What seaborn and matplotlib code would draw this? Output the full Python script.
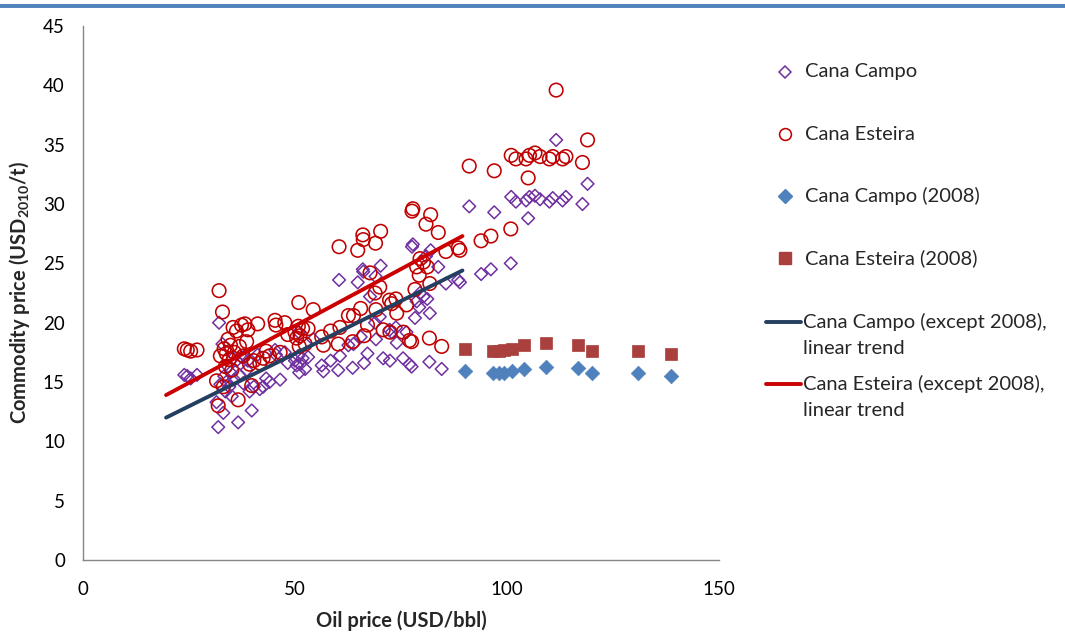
import matplotlib
matplotlib.use("Agg")
import matplotlib.pyplot as plt
from matplotlib.lines import Line2D
import pandas as pd
import seaborn as sns

# Monthly oil price (USD/bbl) with the matching sugarcane prices (USD2010/t), all years except 2008
oil_price = [
    23.9, 24.6, 25.4, 26.9,
    31.5, 31.9, 32.1, 32.4, 32.9, 33.1, 33.3, 33.6, 33.8, 34.2, 34.5, 34.8,
    35.1, 35.4, 35.7, 36.2, 36.6, 36.9, 37.4, 37.8, 38.2, 38.6, 38.9, 39.3,
    39.8, 40.3, 41.2, 41.7, 42.5, 43.2, 44.0, 45.3, 45.5, 46.5, 47.6, 48.3,
    50.0, 50.4, 50.8, 50.9, 51.0, 51.2, 51.8, 52.4, 53.1, 54.3, 56.3, 56.7,
    58.4, 60.2, 60.4, 60.6, 62.6, 63.6, 63.8, 64.8, 65.5, 66.0, 66.1, 66.3,
    67.1, 67.7, 68.9, 69.0, 69.1, 70.0, 70.2, 70.8, 72.3, 72.4, 72.8, 73.8,
    74.0, 75.5, 76.3, 77.0, 77.5, 77.6, 77.8, 78.3, 78.7, 79.3, 79.5, 80.3,
    80.9, 81.2, 81.7, 81.8, 82.0, 83.8, 84.6, 85.6, 88.5, 88.9, 91.1, 93.9,
    96.2, 97.0, 100.9, 101.0, 102.1, 104.5, 105.0, 105.3, 106.6, 107.8, 110.0,
    110.8, 111.6, 113.1, 113.9, 117.8, 119.0,
]
cana_campo = [
    15.6, 15.5, 15.3, 15.6,
    13.3, 11.2, 20.0, 14.8, 18.2, 12.4, 15.5, 14.2, 15.0, 16.3, 14.6, 15.8,
    13.8, 17.0, 15.2, 16.8, 11.6, 15.6, 17.1, 14.9, 17.2, 16.0, 16.8, 14.2,
    12.6, 14.6, 17.3, 14.4, 14.6, 15.3, 15.0, 17.7, 17.3, 15.2, 17.5, 16.6,
    16.8, 16.4, 17.2, 19.2, 15.8, 16.5, 17.0, 16.1, 17.1, 18.6, 16.4, 15.9,
    16.8, 16.0, 23.6, 17.2, 18.1, 16.2, 18.2, 23.4, 18.8, 24.5, 24.3, 16.6,
    17.4, 22.2, 20.0, 23.9, 18.6, 20.5, 24.8, 17.0, 19.4, 16.8, 19.2, 19.6,
    18.3, 17.0, 19.2, 16.5, 16.3, 26.4, 26.6, 20.4, 21.8, 21.3, 22.5, 22.2,
    25.6, 22.0, 16.7, 20.8, 26.1, 24.7, 16.1, 23.3, 23.6, 23.4, 29.8, 24.1,
    24.5, 29.3, 25.0, 30.6, 30.2, 30.3, 28.8, 30.6, 30.7, 30.4, 30.2,
    30.5, 35.4, 30.3, 30.6, 30.0, 31.7,
]
cana_esteira = [
    17.8, 17.7, 17.6, 17.7,
    15.1, 13.0, 22.7, 17.2, 20.9, 14.6, 17.8, 16.3, 17.4, 18.6, 16.9, 18.1,
    16.0, 19.6, 17.5, 19.3, 13.5, 18.0, 19.8, 17.2, 19.9, 18.4, 19.4, 16.5,
    14.7, 16.8, 19.9, 16.6, 17.0, 17.6, 17.2, 20.2, 19.8, 17.5, 20.0, 19.0,
    19.2, 18.7, 19.7, 21.7, 18.0, 18.9, 19.5, 18.2, 19.5, 21.1, 18.8, 18.1,
    19.3, 18.2, 26.4, 19.6, 20.6, 18.4, 20.6, 26.1, 21.2, 27.4, 27.0, 18.9,
    19.8, 24.2, 22.5, 26.7, 21.1, 23.0, 27.7, 19.4, 21.9, 19.2, 21.6, 22.0,
    20.8, 19.2, 21.5, 18.5, 18.4, 29.4, 29.6, 22.8, 24.7, 24.0, 25.4, 25.1,
    28.3, 24.7, 18.7, 23.3, 29.1, 27.6, 18.0, 26.0, 26.3, 26.1, 33.2, 26.9,
    27.3, 32.8, 27.9, 34.1, 33.8, 33.8, 32.2, 34.1, 34.3, 34.0, 33.8,
    34.0, 39.6, 33.8, 34.0, 33.5, 35.4,
]

# 2008 months
oil_price_2008 = [90.1, 96.8, 98.1, 99.3, 101.1, 104.1, 109.3, 116.8, 120.1, 130.8, 138.7]
cana_campo_2008 = [15.9, 15.8, 15.8, 15.8, 15.9, 16.1, 16.3, 16.2, 15.8, 15.8, 15.5]
cana_esteira_2008 = [17.8, 17.6, 17.6, 17.7, 17.8, 18.1, 18.3, 18.1, 17.6, 17.6, 17.4]

# Linear trends (except 2008), evaluated at the ends of their range
trend_oil = [19.6, 89.5]
trend_campo = [12.0, 24.4]
trend_esteira = [13.9, 27.3]

labels = [
    "Cana Campo",
    "Cana Esteira",
    "Cana Campo (2008)",
    "Cana Esteira (2008)",
    ["Cana Campo (except 2008),", "linear trend"],
    ["Cana Esteira (except 2008),", "linear trend"],
]

sns.set_style("white")
plt.rcParams["font.family"] = ["Lato", "DejaVu Sans"]
plt.rcParams["mathtext.default"] = "regular"

C_CAMPO = "#7030A0"
C_ESTEIRA = "#C00000"
C_CAMPO08 = "#4F81BD"
C_ESTEIRA08 = "#A9403D"
C_TREND_CAMPO = "#243F60"
C_TREND_ESTEIRA = "#CC0000"

df = pd.DataFrame({"oil": oil_price, "campo": cana_campo, "esteira": cana_esteira})
df08 = pd.DataFrame({"oil": oil_price_2008, "campo": cana_campo_2008, "esteira": cana_esteira_2008})
trend = pd.DataFrame({"oil": trend_oil, "campo": trend_campo, "esteira": trend_esteira})

W, H = 1065, 633
fig = plt.figure(figsize=(W / 100, H / 100), dpi=100)
ax = fig.add_axes([0.0779, 0.1153, 0.5972, 0.8436])

sns.scatterplot(data=df, x="oil", y="campo", ax=ax, marker="D", s=42,
                facecolor="none", edgecolor=C_CAMPO, linewidth=1.1, zorder=3)
sns.scatterplot(data=df, x="oil", y="esteira", ax=ax, marker="o", s=95,
                facecolor="none", edgecolor=C_ESTEIRA, linewidth=1.15, zorder=3)
sns.scatterplot(data=df08, x="oil", y="campo", ax=ax, marker="D", s=55,
                color=C_CAMPO08, edgecolor=C_CAMPO08, linewidth=0.5, zorder=4)
sns.scatterplot(data=df08, x="oil", y="esteira", ax=ax, marker="s", s=80,
                color=C_ESTEIRA08, edgecolor=C_ESTEIRA08, linewidth=0.5, zorder=4)
sns.lineplot(data=trend, x="oil", y="campo", ax=ax, color=C_TREND_CAMPO, lw=2.8, zorder=5)
sns.lineplot(data=trend, x="oil", y="esteira", ax=ax, color=C_TREND_ESTEIRA, lw=2.8, zorder=5)

ax.set_xlim(0, 150)
ax.set_ylim(0, 45)
ax.set_xticks([0, 50, 100, 150])
ax.set_yticks(range(0, 46, 5))
for side in ("top", "right"):
    ax.spines[side].set_visible(False)
for side in ("left", "bottom"):
    ax.spines[side].set_color("#868686")
    ax.spines[side].set_linewidth(1.0)
ax.tick_params(axis="both", direction="out", length=4, width=1.0, color="#868686",
               labelsize=13.5, labelcolor="black")
ax.tick_params(axis="y", pad=9)
ax.tick_params(axis="x", pad=11)

ax.set_xlabel("Oil price (USD/bbl)", fontsize=14.5, fontweight="bold", labelpad=9)
ax.set_ylabel("Commodity price (USD$_{2010}$/t)", fontsize=14.5, fontweight="bold", labelpad=8)


def px(x, y):
    """Pixel position (from top-left) to figure fraction."""
    return x / W, 1 - y / H


# Legend: marker series
marker_keys = [
    dict(marker="D", ms=6, mfc="none", mec=C_CAMPO, mew=1.1),
    dict(marker="o", ms=8.5, mfc="none", mec=C_ESTEIRA, mew=1.15),
    dict(marker="D", ms=7, mfc=C_CAMPO08, mec=C_CAMPO08),
    dict(marker="s", ms=8, mfc=C_ESTEIRA08, mec=C_ESTEIRA08),
]
legend_fs = 14.5
for i, (key, label) in enumerate(zip(marker_keys, labels[:4])):
    yy = 72 + i * 62
    mx, my = px(785, yy)
    fig.add_artist(Line2D([mx], [my], ls="none", transform=fig.transFigure, **key))
    tx, ty = px(805, yy)
    fig.text(tx, ty, label, fontsize=legend_fs, va="center", ha="left")

# Legend: trend lines, key drawn level with the first text line
for j, (color, lines) in enumerate(zip([C_TREND_CAMPO, C_TREND_ESTEIRA], labels[4:])):
    yy = 322 + j * 62
    x0, y0 = px(766, yy)
    x1, _ = px(801, yy)
    fig.add_artist(Line2D([x0, x1], [y0, y0], transform=fig.transFigure, color=color, lw=2.8))
    for k, line in enumerate(lines):
        tx, ty = px(803, yy + 26 * k)
        fig.text(tx, ty, line, fontsize=legend_fs, va="center", ha="left")

# Blue rule across the top
fig.add_artist(Line2D([0, 1], [0.991, 0.991], transform=fig.transFigure,
                      color="#4F81BD", lw=2.8))

fig.savefig("out.png", dpi=100, facecolor="white")
